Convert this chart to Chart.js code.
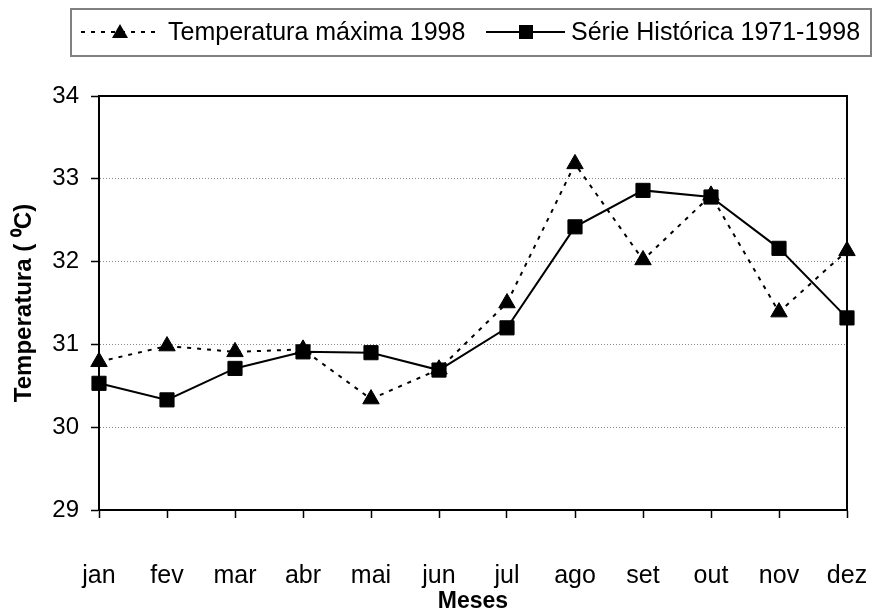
<!DOCTYPE html>
<html>
<head>
<meta charset="utf-8">
<script src="https://cdn.jsdelivr.net/npm/chart.js@4/dist/chart.umd.min.js"></script>
<style>
  html, body { margin: 0; padding: 0; background: #fff; }
  #wrap { width: 875px; height: 611px; position: relative; }
</style>
</head>
<body>
<div id="wrap"><canvas id="tempChart"></canvas></div>
<script>
const months = ['jan', 'fev', 'mar', 'abr', 'mai', 'jun', 'jul', 'ago', 'set', 'out', 'nov', 'dez'];
const tempMax1998 = [30.79, 30.98, 30.91, 30.94, 30.34, 30.70, 31.50, 33.18, 32.02, 32.80, 31.39, 32.13];
const serieHistorica = [30.53, 30.33, 30.71, 30.91, 30.90, 30.69, 31.20, 32.42, 32.86, 32.78, 32.16, 31.32];
const yTicks = [29, 30, 31, 32, 33, 34];

const FONT = '"Liberation Sans", Arial, sans-serif';

// frame round the plot and the boxed legend on top
const framePlugin = {
    id: 'frame',
    afterDraw(chart) {
        const ctx = chart.ctx;
        const a = chart.chartArea;
        ctx.save();
        ctx.strokeStyle = '#000';
        ctx.lineWidth = 2;
        ctx.beginPath();
        ctx.moveTo(a.left, a.top);
        ctx.lineTo(a.right, a.top);
        ctx.lineTo(a.right, a.bottom);
        ctx.stroke();

        // legend
        ctx.strokeStyle = '#808080';
        ctx.lineWidth = 2;
        ctx.strokeRect(71, 9, 800, 47);
        const ly = 32;
        ctx.strokeStyle = '#000';
        ctx.fillStyle = '#000';
        ctx.lineWidth = 2;
        ctx.setLineDash([4, 6]);
        ctx.beginPath();
        ctx.moveTo(81, ly);
        ctx.lineTo(160, ly);
        ctx.stroke();
        ctx.setLineDash([]);
        ctx.beginPath();
        ctx.moveTo(120, ly - 8);
        ctx.lineTo(128, ly + 6);
        ctx.lineTo(112, ly + 6);
        ctx.closePath();
        ctx.fill();

        ctx.beginPath();
        ctx.moveTo(486, ly);
        ctx.lineTo(565, ly);
        ctx.stroke();
        ctx.fillRect(519, ly - 7, 14, 14);

        ctx.font = '25px ' + FONT;
        ctx.textBaseline = 'middle';
        ctx.textAlign = 'left';
        ctx.fillText(chart.data.datasets[0].label, 168, ly + 1);
        ctx.fillText(chart.data.datasets[1].label, 571, ly + 1);
        ctx.restore();
    }
};

const ctx = document.getElementById('tempChart').getContext('2d');
const tempChart = new Chart(ctx, {
    type: 'line',
    data: {
        labels: months,
        datasets: [{
            label: 'Temperatura máxima 1998',
            data: tempMax1998,
            borderColor: '#000',
            backgroundColor: '#000',
            borderWidth: 2,
            borderDash: [4, 6],
            pointStyle: 'triangle',
            pointRadius: 9.5,
            pointBorderWidth: 1,
            tension: 0,
            order: 2
        },
        {
            label: 'Série Histórica 1971-1998',
            data: serieHistorica,
            borderColor: '#000',
            backgroundColor: '#000',
            borderWidth: 2,
            pointStyle: 'rect',
            pointRadius: 10,
            pointBorderWidth: 1,
            tension: 0,
            order: 1
        }]
    },
    plugins: [framePlugin],
    options: {
        responsive: true,
        maintainAspectRatio: false,
        animation: false,
        layout: { padding: { top: 96, right: 28, left: 0, bottom: 0 } },
        plugins: {
            legend: { display: false },
            tooltip: { enabled: false }
        },
        scales: {
            x: {
                type: 'category',
                offset: false,
                grid: {
                    offset: false,
                    drawOnChartArea: false,
                    drawTicks: true,
                    tickLength: 8,
                    tickColor: '#000',
                    tickWidth: 1.5
                },
                border: { color: '#000', width: 2 },
                ticks: {
                    color: '#000',
                    font: { family: FONT, size: 25 },
                    padding: 43,
                    maxRotation: 0,
                    autoSkip: false
                },
                title: {
                    display: true,
                    text: 'Meses',
                    color: '#000',
                    font: { family: FONT, size: 23, weight: 'bold', lineHeight: 0.8 },
                    padding: { top: 0, bottom: 0 }
                },
                afterFit(s) {
                    s.height = 101;
                    s.paddingLeft = 0;
                    s.paddingRight = 0;
                }
            },
            y: {
                min: 29,
                max: 34,
                afterBuildTicks(s) { s.ticks = yTicks.map(v => ({ value: v })); },
                grid: {
                    color: c => (c.tick && (c.tick.value === 29 || c.tick.value === 34)) ? 'rgba(0,0,0,0)' : '#888',
                    lineWidth: 1,
                    tickLength: 8,
                    tickColor: '#000',
                    tickWidth: 1.5
                },
                border: { color: '#000', width: 2, dash: [1, 2] },
                ticks: {
                    color: '#000',
                    font: { family: FONT, size: 24 },
                    padding: 12
                },
                title: {
                    display: true,
                    text: 'Temperatura ( ⁰C)',
                    color: '#000',
                    font: { family: FONT, size: 24, weight: 'bold', lineHeight: 1 },
                    padding: { top: 12, bottom: 0 }
                },
                afterFit(s) { s.width = 99; }
            }
        }
    }
});
</script>
</body>
</html>
